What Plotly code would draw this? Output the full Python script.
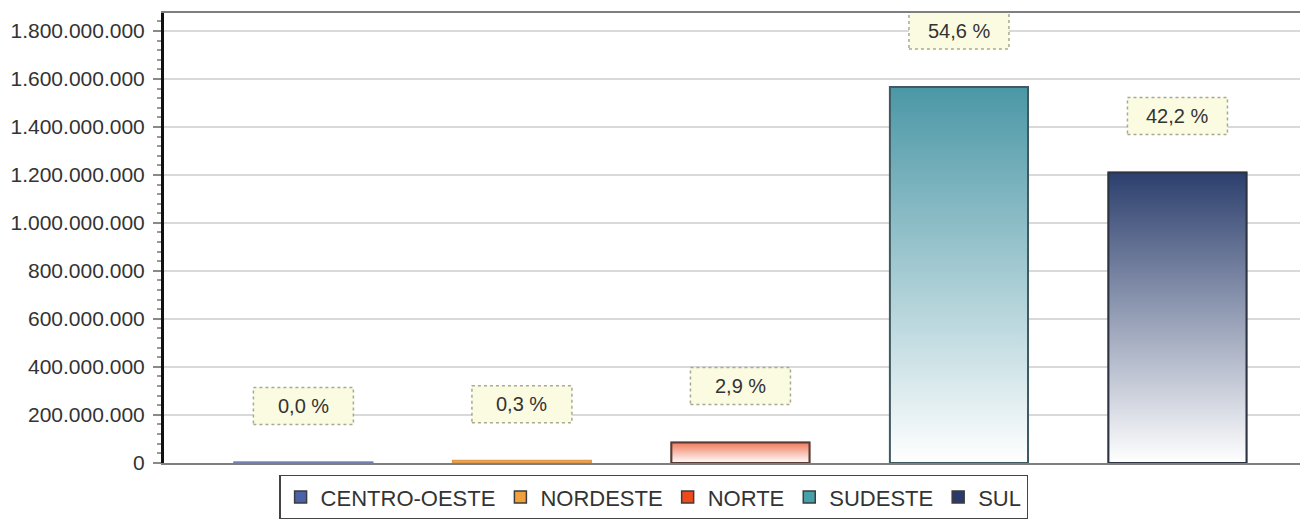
import plotly.graph_objects as go

# ---- data ----
regions = ["CENTRO-OESTE", "NORDESTE", "NORTE", "SUDESTE", "SUL"]
values = [1.1e6, 8.6e6, 85e6, 1.566e9, 1.210e9]
percent_labels = ["0,0 %", "0,3 %", "2,9 %", "54,6 %", "42,2 %"]
tick_vals = [0, 2e8, 4e8, 6e8, 8e8, 1e9, 1.2e9, 1.4e9, 1.6e9, 1.8e9]
tick_text = ["0", "200.000.000", "400.000.000", "600.000.000", "800.000.000",
             "1.000.000.000", "1.200.000.000", "1.400.000.000",
             "1.600.000.000", "1.800.000.000"]

# ---- styles ----
legend_colors = ["#4a62a8", "#f0a03c", "#f04a1c", "#45a0a8", "#2a3a6a"]
top_colors = ["#7588bd", "#efa85a", "#f07b5c", "#4b97a6", "#2c3f6d"]
border_colors = ["#7080b0", "#e09a48", "#5a3c34", "#3f5a60", "#2e3342"]
BAR_W = 0.632
FONT = "Liberation Sans, Arial, sans-serif"

fig = go.Figure()

# bars (provide legend squares; covered by gradient fills)
for i, (name, v) in enumerate(zip(regions, values)):
    fig.add_trace(go.Bar(
        x=[i], y=[v], width=BAR_W, name=name,
        marker=dict(color=legend_colors[i], line=dict(color="#3c3c3c", width=1.5)),
        hoverinfo="skip", showlegend=True,
    ))

# gradient fills drawn over the bars
for i, v in enumerate(values):
    xl, xr = i - BAR_W / 2, i + BAR_W / 2
    fig.add_trace(go.Scatter(
        x=[xl, xl, xr, xr, xl], y=[0, v, v, 0, 0],
        mode="lines", fill="toself",
        fillgradient=dict(type="vertical",
                          colorscale=[[0, "#ffffff"], [1, top_colors[i]]]),
        line=dict(color=border_colors[i], width=2),
        showlegend=False, hoverinfo="skip",
    ))

# percentage label boxes (dotted) and texts
shapes = []
annotations = []
for i, (v, lab) in enumerate(zip(values, percent_labels)):
    shapes.append(dict(
        type="rect", xref="x", yref="y",
        xsizemode="pixel", ysizemode="pixel",
        xanchor=i, yanchor=v,
        x0=-50, x1=50, y0=38, y1=75,
        fillcolor="#fbfbe2",
        line=dict(color="#a9a98f", width=1.5, dash="dot"),
        layer="above",
    ))
    annotations.append(dict(
        x=i, y=v, xref="x", yref="y", text=lab, showarrow=False,
        yshift=56.5, font=dict(family=FONT, size=20, color="#333333"),
    ))

fig.update_layout(
    width=1308, height=519,
    margin=dict(l=156, r=0, t=5, b=58.5),
    paper_bgcolor="white", plot_bgcolor="white",
    barmode="overlay",
    shapes=shapes, annotations=annotations,
    showlegend=True,
    legend=dict(
        orientation="h", x=0.425, xanchor="center",
        yref="container", y=0.014, yanchor="bottom",
        bordercolor="#444444", borderwidth=1.5, bgcolor="white",
        font=dict(family=FONT, size=22, color="#333333"),
    ),
    font=dict(family=FONT, color="#333333"),
)

fig.update_xaxes(
    range=[-0.638, 4.634], showgrid=False, zeroline=False,
    showticklabels=False, ticks="",
    showline=True, linecolor="#7f7f7f", linewidth=2, mirror=True,
)
fig.update_yaxes(
    range=[0, 1.8746e9], tickvals=tick_vals, ticktext=tick_text,
    showgrid=True, gridcolor="#d9d9d9", gridwidth=2, zeroline=False,
    showline=True, linecolor="#111111", linewidth=3,
    ticks="outside", ticklen=8, tickcolor="#8a8a8a", tickwidth=1.5,
    minor=dict(dtick=4e7, ticks="outside", ticklen=4, tickcolor="#9a9a9a",
               tickwidth=1.5, showgrid=False),
    tickfont=dict(family=FONT, size=21, color="#333333"),
    ticklabelstandoff=4,
)

fig.write_html("out.html")
